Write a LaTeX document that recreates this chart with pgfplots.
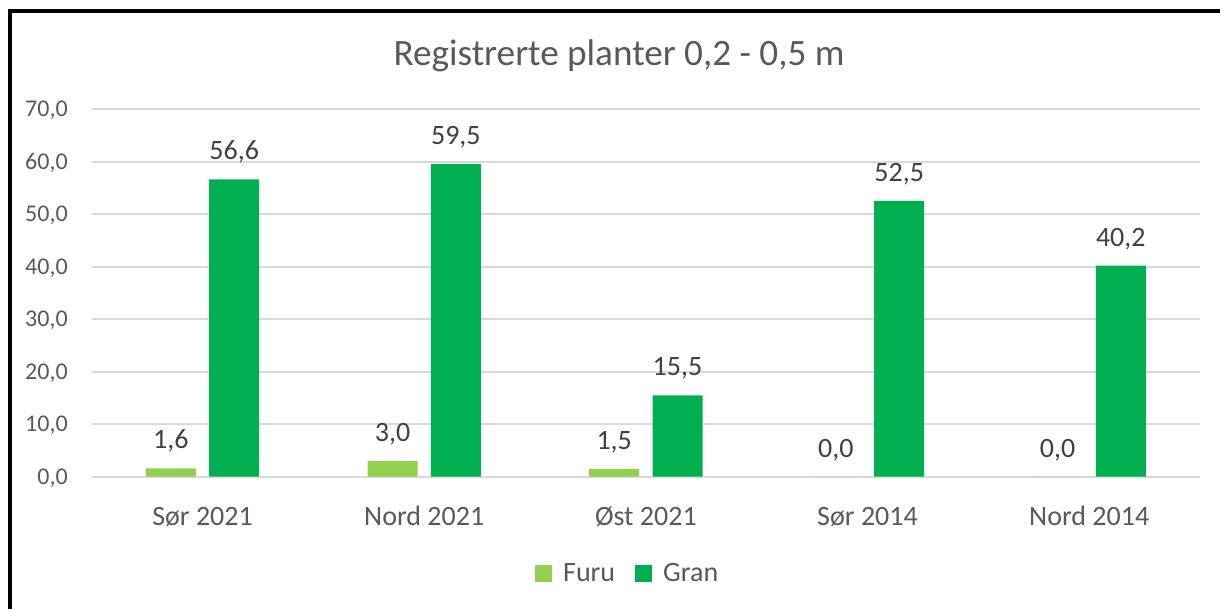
\documentclass[border=0pt]{standalone}
\usepackage{fontspec}
\setmainfont{Carlito}
\usepackage{pgfplots}
\pgfplotsset{compat=1.18}
\definecolor{furu}{HTML}{92D050}
\definecolor{gran}{HTML}{00B050}
\definecolor{txt}{HTML}{595959}
\definecolor{lbl}{HTML}{404040}
\definecolor{gridc}{HTML}{D9D9D9}
\pgfplotsset{ybar legend/.style={/pgfplots/legend image code/.code={\fill[##1] (0pt,-4.25pt) rectangle (8.5pt,4.25pt);}}}
\begin{document}
\begin{tikzpicture}
\useasboundingbox (0pt,0pt) rectangle (610pt,304.5pt);
\draw[line width=2pt, black] (4.75pt,0pt) -- (4.75pt,298.85pt) -- (610pt,298.85pt);
\node[anchor=base, text=txt, font=\fontsize{18.6}{22}\selectfont, inner sep=0pt] at (309.5pt,271.5pt) {Registrerte planter 0,2 - 0,5 m};
\begin{axis}[
  at={(45.85pt,66.15pt)}, anchor=south west,
  scale only axis, width=554.15pt, height=183.85pt,
  ymin=0, ymax=70, xmin=-0.5, xmax=4.5,
  ybar=6.65pt, bar width=25pt,
  axis line style={draw=none},
  major tick length=0pt,
  ytick={0,10,...,70},
  ymajorgrids, major grid style={gridc, line width=1pt},
  xtick={0,1,2,3,4},
  xticklabels={Sør 2021, Nord 2021, Øst 2021, Sør 2014, Nord 2014},
  /pgf/number format/.cd, fixed, fixed zerofill, precision=1, use comma, assume math mode=true,
  /pgfplots/.cd,
  yticklabel style={text=txt, font=\fontsize{12}{14}\selectfont, anchor=east, inner sep=0pt, text depth=0pt, xshift=-11.8pt},
  xticklabel style={text=txt, font=\fontsize{14}{16}\selectfont, anchor=base, inner sep=0pt, yshift=-24.2pt},
  nodes near coords,
  every node near coord/.append style={text=lbl, font=\fontsize{14}{16}\selectfont, anchor=south, inner sep=0pt, text depth=0pt, yshift=9.5pt},
  legend columns=2,
  legend style={draw=none, at={(0.4845,-0.2646)}, anchor=center, font=\fontsize{14}{16}\selectfont, text=txt,
    /tikz/every odd column/.append style={column sep=3.5pt},
    /tikz/every even column/.append style={column sep=8pt}},
]
\addplot[fill=furu, draw=none] coordinates {(0,1.6) (1,3.0) (2,1.5) (3,0.0) (4,0.0)};
\addplot[fill=gran, draw=none] coordinates {(0,56.6) (1,59.5) (2,15.5) (3,52.5) (4,40.2)};
\legend{Furu, Gran}
\end{axis}
\end{tikzpicture}
\end{document}
